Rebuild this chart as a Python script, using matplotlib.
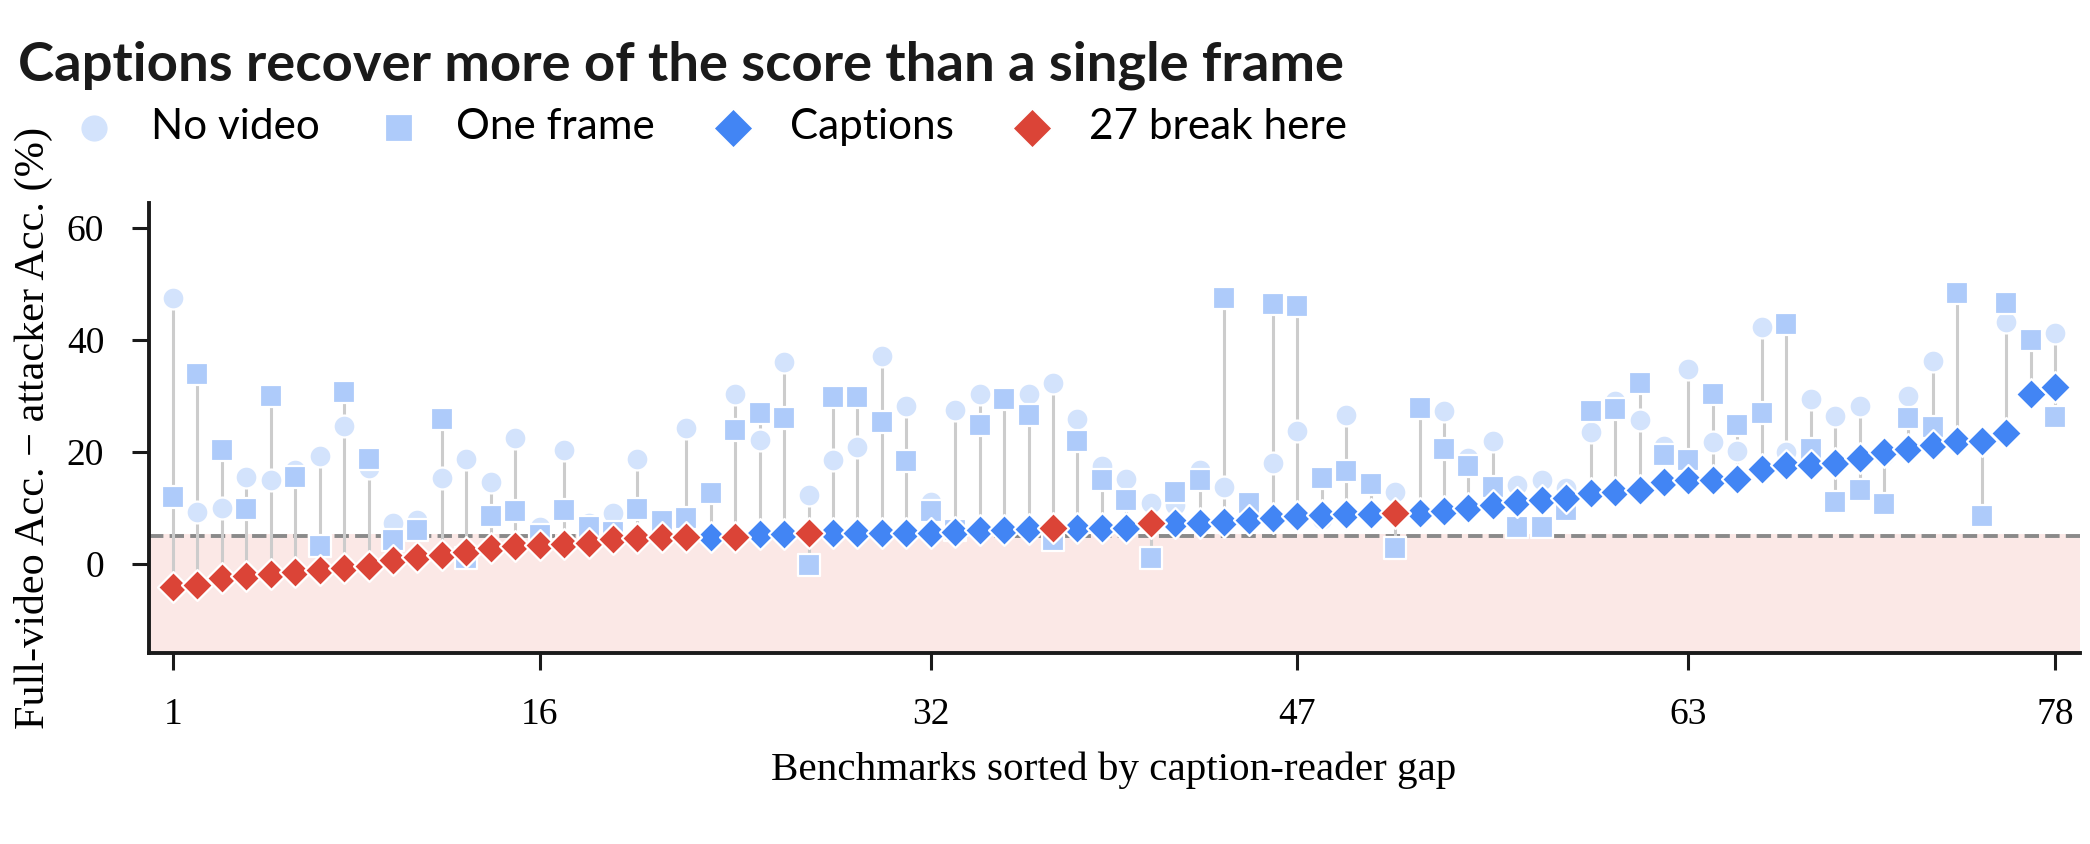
import numpy as np
import matplotlib
matplotlib.use("Agg")
from matplotlib import pyplot as plt

# caption-reader value per benchmark (sorted), plus the two baselines
captions = [-4.0, -3.8, -2.5, -2.1, -1.8, -1.4, -1.0, -0.7, -0.4, 0.8,
            1.35, 1.65, 2.1, 2.85, 3.25, 3.4, 3.5, 3.7, 4.45, 4.6,
            4.75, 4.9, 4.9, 4.9, 5.3, 5.3, 5.5, 5.5, 5.5, 5.6,
            5.6, 5.6, 5.8, 6.1, 6.1, 6.2, 6.4, 6.4, 6.4, 6.4,
            7.3, 7.3, 7.4, 7.5, 7.9, 8.2, 8.5, 8.8, 8.9, 8.9,
            9.1, 9.1, 9.4, 10.0, 10.6, 11.1, 11.4, 11.75, 12.6, 12.8,
            13.2, 14.7, 15.0, 15.0, 15.1, 16.9, 17.7, 17.7, 18.0, 18.9,
            19.9, 20.6, 21.2, 22.0, 22.0, 23.3, 30.4, 31.6]
no_video = [47.5, 9.3, 10.0, 15.6, 15.0, 16.8, 19.2, 24.7, 17.1, 7.3,
            7.9, 15.4, 18.7, 14.6, 22.5, 6.7, 20.3, 7.3, 9.1, 18.8,
            5.6, 24.2, 5.2, 30.3, 22.1, 36.1, 12.3, 18.6, 20.9, 37.1,
            28.2, 11.1, 27.4, 30.3, 6.5, 30.4, 32.2, 25.9, 17.4, 15.1,
            10.9, 10.5, 16.8, 13.8, 9.0, 18.1, 23.7, 8.0, 26.6, 9.5,
            12.9, 9.3, 27.3, 18.9, 21.9, 14.1, 15.0, 13.5, 23.6, 29.0,
            25.6, 21.0, 34.7, 21.7, 20.2, 42.3, 20.0, 29.5, 26.4, 28.2,
            19.5, 30.0, 36.2, 22.5, 21.5, 43.2, 30.0, 41.2]
one_frame = [11.9, 33.8, 20.3, 9.8, 30.0, 15.6, 3.3, 30.7, 18.7, 4.3,
             6.1, 25.9, 1.1, 8.5, 9.4, 5.2, 9.7, 6.7, 5.8, 9.8,
             7.6, 8.3, 12.6, 23.9, 26.9, 26.0, -0.1, 29.8, 29.8, 25.3,
             18.3, 9.4, 6.1, 24.8, 29.5, 26.6, 4.3, 21.9, 15.0, 11.4,
             1.1, 12.9, 15.0, 47.5, 10.9, 46.3, 46.0, 15.3, 16.6, 14.2,
             2.85, 27.8, 20.5, 17.4, 13.8, 6.7, 6.7, 9.7, 27.3, 27.6,
             32.3, 19.5, 18.6, 30.4, 24.8, 27.0, 42.8, 20.6, 11.0, 13.2,
             10.7, 26.0, 24.4, 48.4, 8.6, 46.6, 39.9, 26.3]
# benchmarks (1-based) where the caption reader stays under the threshold
breaks = list(range(1, 23)) + [24, 27, 37, 41, 51]
threshold = 5
tick_labels = [1, 16, 32, 47, 63, 78]

cap = np.array(captions)
nv = np.array(no_video)
of = np.array(one_frame)
x = np.arange(1, len(cap) + 1)
is_break = np.isin(x, breaks)

plt.rcParams['font.family'] = ['Liberation Serif', 'DejaVu Serif']

fig = plt.figure(figsize=(10.45, 4.22), dpi=200)
ax = fig.add_axes([0.0711, 0.2263, 0.9239, 0.5327])

ax.axhspan(-20, threshold + 0.3, color='#fbe8e6', zorder=0, lw=0)
ax.axhline(threshold, color='#8a8a8a', ls='--', lw=1.4, zorder=1)

lo = np.minimum(np.minimum(cap, nv), of)
hi = np.maximum(np.maximum(cap, nv), of)
ax.vlines(x, lo, hi, color='#cccccc', lw=1.1, zorder=2)

ax.scatter(x, nv, s=62, marker='o', color='#d3e3fc', edgecolor='white', lw=0.8, zorder=3, label='No video')
ax.scatter(x, of, s=62, marker='s', color='#aecbfa', edgecolor='white', lw=0.8, zorder=4, label='One frame')
ax.scatter(x[~is_break], cap[~is_break], s=62, marker='D', color='#4285f4', edgecolor='white', lw=0.8, zorder=5, label='Captions')
ax.scatter(x[is_break], cap[is_break], s=62, marker='D', color='#db4437', edgecolor='white', lw=0.8, zorder=6,
           label=f'{is_break.sum()} break here')

ax.set_xlim(0, len(cap) + 1)
ax.set_ylim(-15.85, 64.3)
ax.set_xticks(tick_labels)
ax.set_xticklabels([str(t) for t in tick_labels])
ax.set_yticks([0, 20, 40, 60])
for s in ['top', 'right']:
    ax.spines[s].set_visible(False)
for s in ['left', 'bottom']:
    ax.spines[s].set_linewidth(1.4)
    ax.spines[s].set_color('#1a1a1a')
ax.tick_params(labelsize=13.5, length=6, width=1.1, color='#1a1a1a', pad=10)
ax.set_xlabel('Benchmarks sorted by caption-reader gap', fontsize=14.8, labelpad=7)
ax.set_ylabel('Full-video Acc. \u2212 attacker Acc. (%)', fontsize=15.2, labelpad=5)

fig.text(0.0086, 0.905, 'Captions recover more of the score than a single frame',
         fontsize=19.6, fontweight='bold', family='Lato', color='#1a1a1a')
leg = fig.legend(loc='center left', bbox_to_anchor=(0.027, 0.85), ncol=4, frameon=False,
                 prop={'family': 'Lato', 'size': 15.2}, markerscale=1.3,
                 handlelength=1.0, handletextpad=0.85, columnspacing=1.36, borderaxespad=0)

fig.savefig('out.png', dpi=200)
